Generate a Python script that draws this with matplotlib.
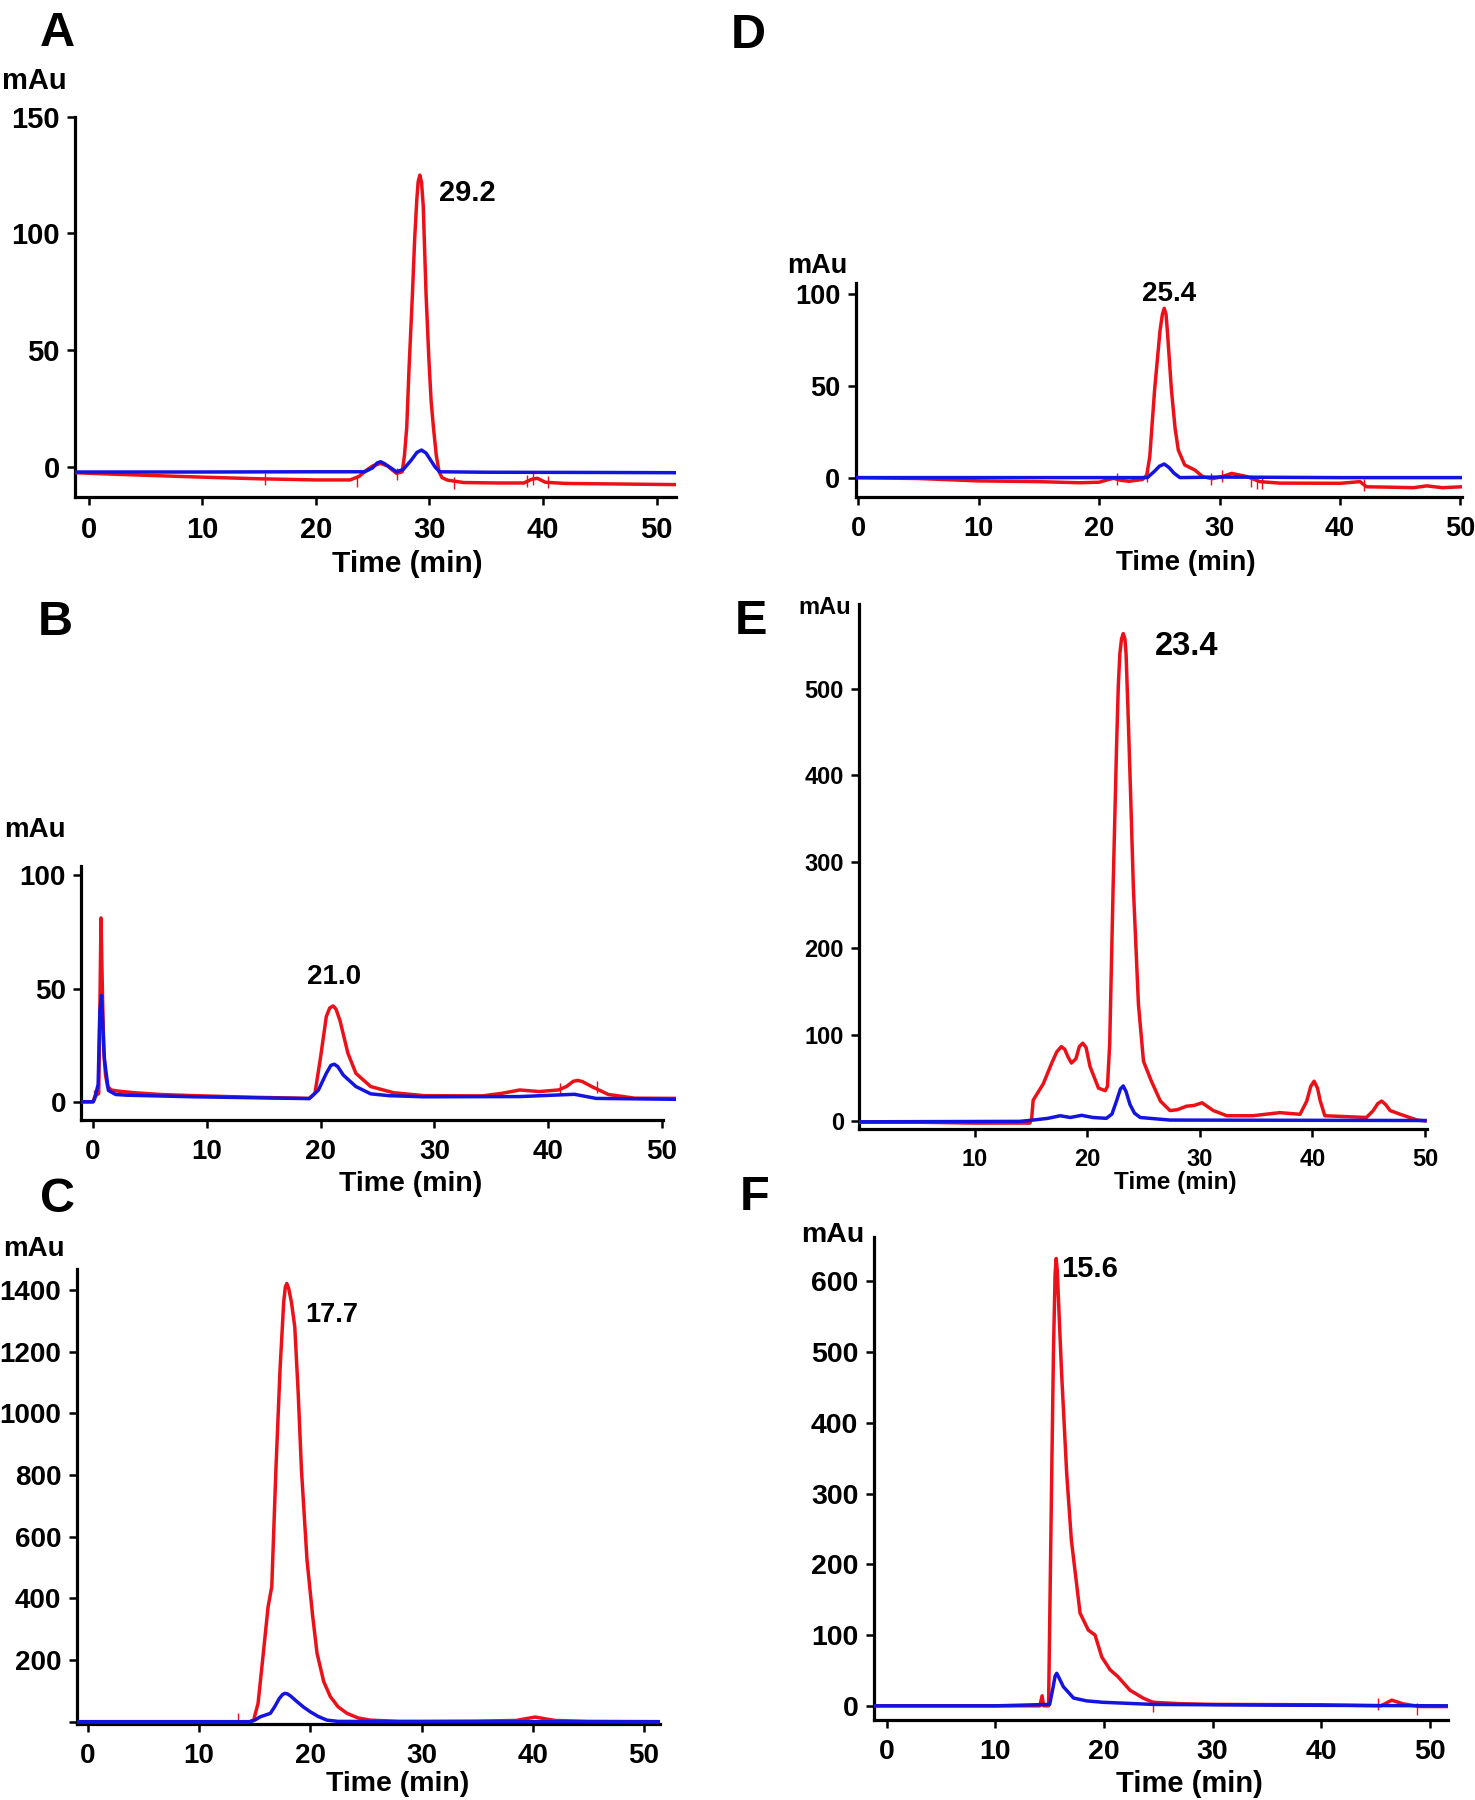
import matplotlib
matplotlib.use('Agg')
from matplotlib import pyplot as plt

plt.rcParams['font.family'] = ['Liberation Sans', 'DejaVu Sans']
plt.rcParams['font.weight'] = 'bold'

RED = '#ec1119'
BLUE = '#1414e0'

# ---- data (time in min, signal in mAu) ----
a_red_t = [-1.2, 2, 5, 10, 15, 20, 23, 23.8, 24.4, 25.0, 25.7, 26.3, 27.1, 27.6, 27.8, 28.0,
           28.2, 28.5, 28.7, 28.88, 29.0, 29.15, 29.3, 29.45, 29.7, 29.95, 30.15, 30.35, 30.6,
           30.85, 31.1, 31.6, 33, 36, 38.3, 39.0, 39.5, 40.2, 42, 46, 51.7]
a_red_v = [-2.4, -3, -3.5, -4.3, -5, -5.5, -5.5, -4.0, -1.5, 0.5, 1.6, 0.5, -2.7, -2, 5, 17,
           42, 74, 98, 114, 122, 125, 122, 112, 74, 46, 28, 17, 5,
           -2, -4.5, -5.6, -6.6, -6.8, -6.8, -5.2, -4.8, -6.5, -7, -7.2, -7.5]
a_blue_t = [-1.2, 10, 20, 24.3, 25.0, 25.4, 25.7, 26.0, 26.4, 27.1, 27.7, 28.4, 28.9, 29.3,
            29.7, 30.1, 30.5, 30.9, 35, 45, 51.7]
a_blue_v = [-2.1, -2.1, -2.0, -2.0, -0.3, 1.8, 2.3, 1.6, 0.3, -2.0, -1.0, 3.0, 6.3, 7.3,
            6.0, 3.0, 0.0, -2.0, -2.2, -2.3, -2.4]
a_marks_t = [15.5, 23.6, 27.1, 32.2, 38.6, 39.1, 40.4]
a_marks_v = [-5, -6, -3, -6.6, -6, -5, -6.5]

b_red_t = [-1.03, 0.0, 0.15, 0.5, 0.6, 0.7, 0.8, 0.94, 1.1, 1.28, 1.6, 2.2, 3.6, 6, 8.9, 14,
           19.0, 19.5, 20.0, 20.5, 20.8, 21.1, 21.35, 21.7, 22.4, 23.1, 24.4, 26.4, 29.1,
           34.2, 35.9, 37.5, 39.2, 40.9, 41.6, 42.2, 42.6, 43.0, 43.9, 45.3, 47.6, 51.2]
b_red_v = [0.3, 0.3, 2.6, 4, 40, 81, 55, 23, 12, 7, 5.5, 5, 4.3, 3.5, 3, 2.3,
           1.8, 4, 20, 37.7, 41.5, 42.4, 41, 36, 21.6, 12.8, 7, 4.3, 3,
           2.9, 4, 5.5, 4.8, 5.5, 7, 9.3, 9.7, 9.2, 6.8, 3.5, 1.9, 1.8]
b_blue_t = [-1.03, 0.0, 0.15, 0.45, 0.6, 0.75, 0.9, 1.0, 1.35, 2.0, 3, 8.9, 19.0, 19.8, 20.5,
            20.9, 21.2, 21.5, 22.0, 23.1, 24.4, 26, 29.1, 37.5, 42.3, 44.2, 51.2]
b_blue_v = [0.3, 0.3, 1.7, 8, 40, 47, 30, 19, 5.3, 3.5, 3.2, 2.5, 1.7, 5.4, 12.8,
            16.3, 16.8, 15.8, 12, 7, 3.8, 3, 2.5, 2.6, 3.6, 1.8, 1.4]
b_marks_t = [0.1, 41.0, 44.3]
b_marks_v = [3, 6, 7]

c_red_t = [-1.0, 5, 10, 14.5, 14.9, 15.3, 15.77, 16.2, 16.53, 16.9, 17.27, 17.6, 17.75, 17.88,
           18.05, 18.3, 18.6, 18.9, 19.2, 19.7, 20.2, 20.6, 21.2, 21.8, 22.5, 23.3, 24.3,
           25.4, 28, 35, 38.5, 40.2, 42, 45, 51.4]
c_red_v = [0, 0, 0, 0, 5, 60, 222, 373, 438, 816, 1140, 1360, 1410, 1421,
           1405, 1360, 1280, 1070, 816, 524, 345, 222, 130, 81, 48, 27, 12,
           5, 1, 2, 4, 15, 4, 1, 0]
c_blue_t = [-1.0, 10, 14.6, 15.0, 15.5, 16.0, 16.4, 16.8, 17.2, 17.5, 17.7, 17.95, 18.2, 18.8,
            19.4, 20.0, 20.7, 21.5, 22.5, 30, 51.4]
c_blue_v = [0, 0, 0, 5, 16, 22, 27, 49, 75, 88, 92, 90, 84, 65,
            47, 32, 17, 5, 1, 0, 0]
c_marks_t = [13.5]
c_marks_v = [10]

d_red_t = [-0.23, 5, 10, 15, 18.4, 20, 20.8, 21.2, 21.8, 22.5, 23.6, 23.95, 24.2, 24.6, 25.05,
           25.25, 25.4, 25.55, 25.66, 26.0, 26.3, 26.57, 27.1, 27.95, 28.6, 29.4, 30.2, 31.0,
           32.3, 33.35, 35, 40, 41.66, 42.2, 44, 46.1, 47.2, 48.5, 50.13]
d_red_v = [0, -0.5, -1.8, -2.2, -2.8, -2.5, -1, -0.4, -1.5, -2, -1, 1.4, 11.4, 47.7, 80,
           89, 92.2, 89, 80, 47.7, 27, 15, 6.9, 4.1, 0.5, -0.6, 0.5, 2.3,
           0.5, -2.2, -3, -3.1, -2.2, -5, -5.2, -5.5, -4.5, -5.5, -5]
d_blue_t = [-0.23, 10, 20, 24.0, 24.6, 25.0, 25.4, 25.8, 26.2, 26.7, 30, 40, 50.13]
d_blue_v = [0, 0, 0, 0, 3.5, 6.2, 7.4, 5.5, 2.5, 0, 0.3, 0, 0]
d_marks_t = [21.5, 24.0, 29.3, 30.2, 32.6, 33.1, 33.5, 42.0]
d_marks_v = [-0.5, 1, -1, 1, -2, -3, -3, -4]

e_red_t = [-0.23, 5, 10, 14.9, 15.07, 15.2, 16.1, 16.85, 17.3, 17.7, 18.0, 18.3, 18.6, 19.0,
           19.3, 19.6, 19.9, 20.25, 21.0, 21.6, 21.8, 22.0, 22.3, 22.6, 22.76, 22.9, 23.05,
           23.2, 23.35, 23.45, 23.65, 23.85, 24.1, 24.55, 25.0, 25.7, 26.5, 27.35, 28.0, 28.8,
           29.5, 30.2, 31.2, 32.4, 34.7, 37.1, 38.9, 39.5, 39.85, 40.15, 40.45, 40.7, 41.1,
           44.8, 45.4, 45.8, 46.15, 46.5, 46.9, 47.8, 49.3, 50.0]
e_red_v = [-1.5, -1.5, -2.5, -2.5, 3, 24, 43, 67, 80, 86, 83, 74, 67, 72,
           86, 90, 85, 63, 38, 35, 40, 90, 270, 430, 503, 541, 558,
           564, 558, 541, 464, 380, 270, 135, 69, 46, 23, 12, 13, 17,
           18, 21, 12, 6, 6, 9.6, 7.7, 23, 40, 46, 38, 23, 6,
           4, 12, 20, 23, 19, 12, 7.7, 1, 0]
e_blue_t = [-0.23, 14, 15.2, 16.5, 17.6, 18.5, 19.5, 20.5, 21.7, 22.2, 22.6, 22.95, 23.2, 23.45,
            23.8, 24.2, 24.7, 27.35, 50.0]
e_blue_v = [-1, -0.5, 1, 3, 6, 4, 6.5, 4, 3, 8, 23, 37, 40.5, 34, 19, 9, 4, 1, 0.5]

f_red_t = [-1.22, 10, 14.1, 14.3, 14.45, 14.9, 15.19, 15.35, 15.5, 15.6, 15.7, 15.85, 16.1,
           16.57, 17.0, 17.8, 18.56, 19.18, 19.8, 20.56, 21.3, 22.4, 23.6, 24.5, 27, 30, 40,
           45.5, 46.5, 47.5, 49, 51.66]
f_red_v = [0, 0, 0, 14, 0, 0, 328, 500, 610, 632, 615, 560, 470,
           328, 234, 131, 107, 100, 69, 51, 41, 22, 11, 5, 3, 2, 1.5,
           0, 8, 3, -1, -1]
f_blue_t = [-1.22, 10, 15.0, 15.3, 15.5, 15.65, 15.85, 16.26, 17.2, 18.4, 19.9, 24.5, 35, 51.66]
f_blue_v = [0, 0, 2, 25, 42, 46, 40, 27, 11, 7, 5, 2, 1, 0]
f_marks_t = [14.3, 24.5, 45.2, 48.8]
f_marks_v = [8, 0, 3, -4]

peak_labels = ['29.2', '21.0', '17.7', '25.4', '23.4', '15.6']
panel_letters = ['A', 'B', 'C', 'D', 'E', 'F']

W, H = 1475, 1800
fig = plt.figure(figsize=(W / 100, H / 100), dpi=100)


def px(x, y):
    return x / W, 1 - y / H


# layout: axes box in pixels (left, top, right, bottom), limits, ticks, text spots
panels = [
    dict(box=(75, 116.7, 676, 497), xlim=(-1.2, 51.7), ylim=(-12.8, 150),
         xticks=[0, 10, 20, 30, 40, 50], yticks=[0, 50, 100, 150], ylabels=None,
         red=(a_red_t, a_red_v), blue=(a_blue_t, a_blue_v), marks=(a_marks_t, a_marks_v),
         fs=21, peak_xy=(33.3, 117.5), peak_fs=21,
         letter_xy=(57, 34), mau_xy=(34, 81), time_xy=(407, 564)),
    dict(box=(81.3, 866, 676, 1119.7), xlim=(-1.03, 51.23), ylim=(-7.55, 103.8),
         xticks=[0, 10, 20, 30, 40, 50], yticks=[0, 50, 100], ylabels=None,
         red=(b_red_t, b_red_v), blue=(b_blue_t, b_blue_v), marks=(b_marks_t, b_marks_v),
         fs=20, peak_xy=(21.2, 55), peak_fs=20, xbound=50.1,
         letter_xy=(55, 623), mau_xy=(35, 830), time_xy=(411, 1184)),
    dict(box=(76.6, 1269, 660, 1723.7), xlim=(-1.02, 51.44), ylim=(-6.5, 1468),
         xticks=[0, 10, 20, 30, 40, 50], yticks=[0, 200, 400, 600, 800, 1000, 1200, 1400],
         ylabels=['', '200', '400', '600', '800', '1000', '1200', '1400'],
         red=(c_red_t, c_red_v), blue=(c_blue_t, c_blue_v), marks=(c_marks_t, c_marks_v),
         fs=20, peak_xy=(21.9, 1319), peak_fs=19.5,
         letter_xy=(58, 1200), mau_xy=(34, 1249), time_xy=(398, 1784)),
    dict(box=(855.6, 283, 1462, 496.7), xlim=(-0.23, 50.13), ylim=(-10.4, 106),
         xticks=[0, 10, 20, 30, 40, 50], yticks=[0, 50, 100], ylabels=None,
         red=(d_red_t, d_red_v), blue=(d_blue_t, d_blue_v), marks=(d_marks_t, d_marks_v),
         fs=19.5, peak_xy=(25.8, 100), peak_fs=20,
         letter_xy=(748, 35), mau_xy=(817, 266), time_xy=(1186, 563)),
    dict(box=(859.4, 603.7, 1426.6, 1128.8), xlim=(-0.23, 50.14), ylim=(-9.1, 598.6),
         xticks=[10, 20, 30, 40, 50], yticks=[0, 100, 200, 300, 400, 500], ylabels=None,
         red=(e_red_t, e_red_v), blue=(e_blue_t, e_blue_v), marks=None,
         fs=17, peak_xy=(28.8, 549.6), peak_fs=23.5,
         letter_xy=(751, 622), mau_xy=(825, 608), time_xy=(1175, 1183)),
    dict(box=(873.5, 1237.3, 1447.8, 1719.7), xlim=(-1.22, 51.66), ylim=(-19.6, 662),
         xticks=[0, 10, 20, 30, 40, 50], yticks=[0, 100, 200, 300, 400, 500, 600],
         ylabels=None,
         red=(f_red_t, f_red_v), blue=(f_blue_t, f_blue_v), marks=(f_marks_t, f_marks_v),
         fs=20.5, peak_xy=(18.7, 617), peak_fs=21,
         letter_xy=(755, 1198), mau_xy=(833, 1235), time_xy=(1189, 1784)),
]

for p, label, letter in zip(panels, peak_labels, panel_letters):
    x0, yt, x1, yb = p['box']
    ax = fig.add_axes([x0 / W, 1 - yb / H, (x1 - x0) / W, (yb - yt) / H])

    ax.plot(*p['red'], color=RED, lw=2.5, solid_joinstyle='round', zorder=3)
    ax.plot(*p['blue'], color=BLUE, lw=2.5, solid_joinstyle='round', zorder=4)
    if p['marks']:
        ax.plot(*p['marks'], ls='none', marker='|', ms=9, mew=1.0, color=RED, zorder=2)

    ax.set_xlim(*p['xlim'])
    ax.set_ylim(*p['ylim'])
    ax.set_xticks(p['xticks'])
    ax.set_yticks(p['yticks'])
    if p['ylabels']:
        ax.set_yticklabels(p['ylabels'])

    for side in ['top', 'right']:
        ax.spines[side].set_visible(False)
    for side in ['left', 'bottom']:
        ax.spines[side].set_linewidth(2.3)
    if 'xbound' in p:
        ax.spines['bottom'].set_bounds(p['xlim'][0], p['xbound'])
    ax.tick_params(axis='both', direction='out', length=6, width=1.8,
                   labelsize=p['fs'])
    ax.tick_params(axis='x', pad=8)
    ax.tick_params(axis='y', pad=5)
    for t in ax.get_xticklabels() + ax.get_yticklabels():
        t.set_fontweight('bold')

    ax.text(*p['peak_xy'], label, ha='center', va='center', fontsize=p['peak_fs'],
            fontweight='bold')
    fig.text(*px(*p['letter_xy']), letter, ha='center', va='center', fontsize=35,
             fontweight='bold')
    fig.text(*px(*p['mau_xy']), 'mAu', ha='center', va='center', fontsize=p['fs'],
             fontweight='bold')
    fig.text(*px(*p['time_xy']), 'Time (min)', ha='center', va='center',
             fontsize=p['fs'] + 0.5, fontweight='bold')

fig.savefig('out.png', dpi=100)
